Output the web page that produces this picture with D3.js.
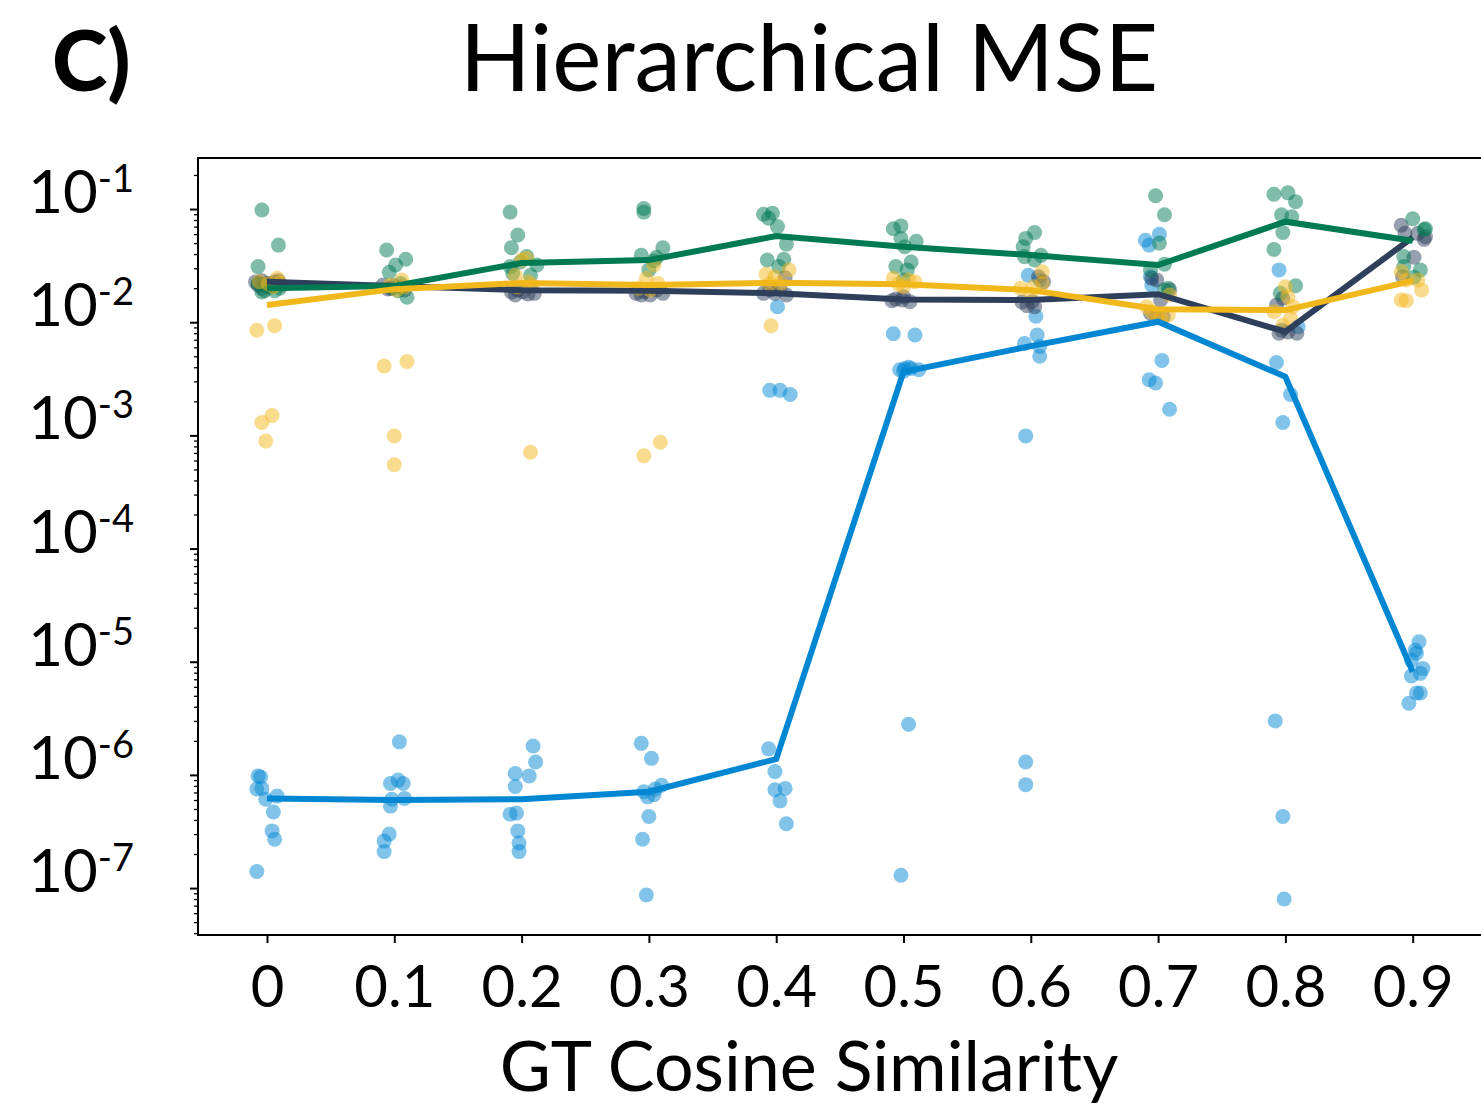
<!DOCTYPE html>
<html>
  <head>
    <meta charset="utf-8">
    <title>Hierarchical MSE</title>
    <script src="https://d3js.org/d3.v7.min.js"></script>
    <style>
      body { margin: 0; background: #fff; }
      #chart text { font-family: Lato, "Open Sans", sans-serif; fill: #000; }
      .domain, .tick line { stroke: #000; }
    </style>
  </head>
  <body>
    <svg id="chart" width="1481" height="1109"></svg>
    <script>
      // x levels (GT cosine similarity) and y decades
      const similarity = [0, 0.1, 0.2, 0.3, 0.4, 0.5, 0.6, 0.7, 0.8, 0.9];
      const xTickLabels = ["0", "0.1", "0.2", "0.3", "0.4", "0.5", "0.6", "0.7", "0.8", "0.9"];
      const decades = [-1, -2, -3, -4, -5, -6, -7];

      // median lines, one value per similarity level
      const blueLine = [6.2e-7, 6.0e-7, 6.1e-7, 7.1e-7, 1.38e-6, 3.65e-3, 6.15e-3, 1.01e-2, 3.3e-3, 8.15e-6];
      const navyLine = [0.0228, 0.0209, 0.0192, 0.0190, 0.0180, 0.0159, 0.0157, 0.0177, 0.00824, 0.0562];
      const greenLine = [0.0200, 0.0209, 0.0334, 0.0354, 0.0577, 0.0464, 0.0392, 0.0320, 0.0773, 0.0525];
      const yellowLine = [0.0142, 0.0196, 0.0222, 0.0213, 0.0223, 0.0217, 0.0192, 0.0130, 0.0128, 0.0232];

      // single runs: [jittered similarity, mse]
      const bluePoints = [
        [-0.007, 9.8e-7], [-0.005, 9.6e-7], [-0.008, 7.5e-7], [-0.004, 7.6e-7], [-0.001, 6.1e-7],
        [0.008, 6.5e-7], [0.005, 4.7e-7], [0.004, 3.2e-7], [0.006, 2.7e-7], [-0.008, 1.4e-7],
        [0.104, 1.96e-6], [0.097, 8.4e-7], [0.103, 9.0e-7], [0.107, 8.4e-7], [0.098, 6.1e-7],
        [0.108, 6.2e-7], [0.097, 5.3e-7], [0.096, 3.0e-7], [0.092, 2.6e-7], [0.092, 2.1e-7],
        [0.209, 1.8e-6], [0.211, 1.3e-6], [0.195, 1.03e-6], [0.206, 9.8e-7], [0.195, 7.9e-7],
        [0.191, 4.5e-7], [0.196, 4.6e-7], [0.197, 3.2e-7], [0.198, 2.5e-7], [0.198, 2.1e-7],
        [0.294, 1.9e-6], [0.302, 1.4e-6], [0.296, 7.1e-7], [0.304, 6.7e-7], [0.310, 8.1e-7],
        [0.300, 4.3e-7], [0.295, 2.7e-7], [0.298, 8.7e-8], [0.305, 7.5e-7], [0.299, 6.4e-7],
        [0.401, 0.0137], [0.395, 0.0025], [0.403, 0.0025], [0.411, 0.0023], [0.394, 1.7e-6],
        [0.399, 1.07e-6], [0.399, 7.4e-7], [0.407, 7.6e-7], [0.403, 5.9e-7], [0.408, 3.7e-7],
        [0.492, 0.0079], [0.509, 0.0077], [0.501, 0.0039], [0.506, 0.0039], [0.512, 0.0038],
        [0.504, 0.0040], [0.497, 0.0038], [0.500, 0.0037], [0.504, 2.8e-6], [0.498, 1.3e-7],
        [0.598, 0.026], [0.604, 0.0113], [0.595, 0.0065], [0.605, 0.0077], [0.607, 0.0061],
        [0.607, 0.0050], [0.596, 0.00099], [0.596, 1.3e-6], [0.596, 8.2e-7], [0.607, 0.0236],
        [0.690, 0.053], [0.701, 0.060], [0.693, 0.048], [0.694, 0.0252], [0.695, 0.0213],
        [0.703, 0.0046], [0.693, 0.0031], [0.698, 0.0029], [0.709, 0.0017],
        [0.795, 0.029], [0.793, 0.0044], [0.804, 0.0023], [0.798, 0.0013], [0.810, 0.0091],
        [0.792, 3.0e-6], [0.798, 4.3e-7], [0.799, 8.0e-8],
        [0.905, 1.5e-5], [0.902, 1.27e-5], [0.903, 1.19e-5], [0.908, 8.7e-6], [0.906, 7.9e-6],
        [0.899, 7.5e-6], [0.906, 5.3e-6], [0.903, 5.3e-6], [0.897, 4.3e-6], [0.899, 1.03e-5]
      ];
      const navyPoints = [
        [-0.009, 0.0227], [-0.004, 0.0232], [0.001, 0.0220], [0.006, 0.0227], [0.011, 0.0213],
        [-0.004, 0.0200], [0.002, 0.0205], [-0.007, 0.0213], [0.009, 0.0232], [-0.002, 0.0218],
        [0.091, 0.0213], [0.106, 0.0206], [0.097, 0.0200], [0.100, 0.0210], [0.095, 0.0197], [0.108, 0.0193],
        [0.195, 0.0174], [0.210, 0.0180], [0.201, 0.0186], [0.197, 0.0193], [0.205, 0.0178], [0.192, 0.0185],
        [0.290, 0.0180], [0.301, 0.0174], [0.311, 0.0180], [0.296, 0.0187], [0.306, 0.0193], [0.294, 0.0174],
        [0.390, 0.0180], [0.399, 0.0180], [0.408, 0.0174], [0.407, 0.0247], [0.395, 0.0193], [0.403, 0.0200],
        [0.491, 0.0155], [0.499, 0.0157], [0.505, 0.0152], [0.500, 0.0168], [0.494, 0.0160],
        [0.597, 0.0140], [0.603, 0.0137], [0.606, 0.0252], [0.610, 0.0228], [0.601, 0.0152], [0.593, 0.0151],
        [0.695, 0.0244], [0.699, 0.0236], [0.709, 0.0193], [0.699, 0.0112], [0.694, 0.0120],
        [0.704, 0.0112], [0.702, 0.0157],
        [0.793, 0.0142], [0.795, 0.0080], [0.809, 0.0080], [0.802, 0.0082], [0.798, 0.0163], [0.797, 0.0085],
        [0.891, 0.072], [0.894, 0.061], [0.910, 0.057], [0.901, 0.0375], [0.904, 0.061], [0.892, 0.0252], [0.909, 0.054]
      ];
      const greenPoints = [
        [-0.004, 0.098], [0.009, 0.048], [-0.007, 0.031], [-0.007, 0.022], [-0.002, 0.019],
        [0.006, 0.019], [0.010, 0.020], [0.002, 0.021], [-0.004, 0.0185],
        [0.094, 0.0435], [0.109, 0.036], [0.101, 0.032], [0.096, 0.0276], [0.110, 0.0166],
        [0.105, 0.022], [0.099, 0.020], [0.103, 0.019],
        [0.191, 0.094], [0.197, 0.059], [0.192, 0.0455], [0.204, 0.038], [0.191, 0.031],
        [0.212, 0.032], [0.199, 0.034], [0.207, 0.026], [0.193, 0.027],
        [0.296, 0.101], [0.296, 0.094], [0.311, 0.0455], [0.294, 0.039], [0.304, 0.035],
        [0.300, 0.029], [0.306, 0.0375],
        [0.390, 0.090], [0.397, 0.092], [0.394, 0.083], [0.401, 0.070], [0.408, 0.049],
        [0.393, 0.0355], [0.406, 0.036], [0.402, 0.031],
        [0.492, 0.067], [0.498, 0.071], [0.498, 0.055], [0.510, 0.052], [0.501, 0.0465],
        [0.494, 0.031], [0.506, 0.034], [0.503, 0.029], [0.500, 0.0236],
        [0.603, 0.062], [0.596, 0.055], [0.594, 0.0465], [0.595, 0.038], [0.608, 0.039], [0.603, 0.0355],
        [0.698, 0.131], [0.705, 0.089], [0.701, 0.050], [0.705, 0.0325], [0.694, 0.029],
        [0.705, 0.0193], [0.708, 0.020],
        [0.791, 0.135], [0.802, 0.139], [0.808, 0.116], [0.797, 0.089], [0.805, 0.0855],
        [0.798, 0.062], [0.791, 0.044], [0.808, 0.021], [0.796, 0.018],
        [0.900, 0.082], [0.910, 0.067], [0.893, 0.038], [0.906, 0.029], [0.901, 0.025],
        [0.893, 0.031], [0.909, 0.066]
      ];
      const yellowPoints = [
        [-0.008, 0.0085], [0.006, 0.0093], [-0.004, 0.0013], [0.004, 0.0015], [-0.001, 0.00089],
        [0.008, 0.0244], [-0.006, 0.0228], [0.005, 0.0206], [0.001, 0.0218], [0.010, 0.0222],
        [0.092, 0.0041], [0.110, 0.0045], [0.100, 0.00099], [0.100, 0.00055], [0.106, 0.0236],
        [0.108, 0.0206], [0.097, 0.0213], [0.102, 0.0193],
        [0.207, 0.00071], [0.200, 0.0355], [0.204, 0.0367], [0.195, 0.026], [0.205, 0.0228],
        [0.208, 0.0213], [0.197, 0.0205],
        [0.296, 0.00066], [0.309, 0.00087], [0.304, 0.032], [0.298, 0.0244], [0.307, 0.022],
        [0.292, 0.020], [0.301, 0.0193],
        [0.396, 0.0093], [0.392, 0.0265], [0.410, 0.029], [0.399, 0.0252], [0.404, 0.022], [0.395, 0.0218],
        [0.492, 0.0244], [0.509, 0.0228], [0.500, 0.0206], [0.504, 0.0236], [0.496, 0.0218],
        [0.609, 0.0279], [0.592, 0.020], [0.602, 0.0206], [0.609, 0.022], [0.600, 0.0174],
        [0.691, 0.0137], [0.699, 0.0112], [0.708, 0.0116], [0.695, 0.0124], [0.709, 0.0174], [0.702, 0.0109],
        [0.800, 0.0206], [0.791, 0.0124], [0.802, 0.0168], [0.806, 0.0137], [0.798, 0.0094], [0.804, 0.0108],
        [0.891, 0.0157], [0.895, 0.0155], [0.907, 0.0193], [0.891, 0.0279], [0.895, 0.0236], [0.904, 0.0236]
      ];

      const series = [
        { points: bluePoints, line: blueLine, colour: "#0387d3" },
        { points: navyPoints, line: navyLine, colour: "#2e3f5b" },
        { points: greenPoints, line: greenLine, colour: "#007a53" },
        { points: yellowPoints, line: yellowLine, colour: "#f1b81c" }
      ];

      // frame of the axes
      const frame = { left: 198, top: 158, right: 1490, bottom: 935 };
      const chart = d3.select("#chart");

      const x = d3.scaleLinear()
        .domain([0, 0.9])
        .range([267, 1412.7]);
      const y = d3.scaleLog()
        .domain([3.85e-8, 0.2825])
        .range([frame.bottom, frame.top]);

      // spines
      chart.append("path")
        .attr("d", "M" + frame.right + "," + frame.top + "H" + frame.left + "V" + frame.bottom + "H" + frame.right)
        .attr("fill", "none")
        .attr("stroke", "#000")
        .attr("stroke-width", 2);

      // minor y ticks (2..9 in each decade)
      let minor = [];
      for (let k = -8; k <= -1; k++) {
        for (let m = 2; m <= 9; m++) {
          let v = m * Math.pow(10, k);
          if (v >= y.domain()[0] && v <= y.domain()[1]) minor.push(v);
        }
      }
      const yMinorGroup = chart.append("g")
        .attr("transform", "translate(" + frame.left + ",0)")
        .call(d3.axisLeft(y).tickValues(minor).tickSize(4).tickFormat(""));
      yMinorGroup.select(".domain").remove();
      yMinorGroup.selectAll(".tick line").attr("stroke-width", 1.3);

      // major y ticks with 10^k labels
      const yMajorGroup = chart.append("g")
        .attr("transform", "translate(" + frame.left + ",0)")
        .call(d3.axisLeft(y).tickValues(decades.map(function(k) { return Math.pow(10, k); }))
          .tickSize(8).tickFormat(""));
      yMajorGroup.select(".domain").remove();
      yMajorGroup.selectAll(".tick line").attr("stroke-width", 2);

      const yLabels = chart.append("g");
      decades.forEach(function(k) {
        let t = yLabels.append("text")
          .attr("x", 134)
          .attr("y", y(Math.pow(10, k)) + 4)
          .attr("text-anchor", "end")
          .style("font-size", "60px");
        t.append("tspan").text("10");
        t.append("tspan")
          .attr("dy", -21)
          .style("font-size", "38px")
          .text(String(k));
      });

      // x axis
      const xAxisGroup = chart.append("g")
        .attr("transform", "translate(0," + frame.bottom + ")")
        .call(d3.axisBottom(x).tickValues(similarity).tickSize(8)
          .tickFormat(function(d, i) { return xTickLabels[i]; }).tickPadding(22));
      xAxisGroup.select(".domain").remove();
      xAxisGroup.selectAll(".tick line").attr("stroke-width", 2);
      xAxisGroup.selectAll(".tick text")
        .style("font-size", "58px")
        .attr("dy", "0.72em");

      // run points
      const pointGroup = chart.append("g");
      series.forEach(function(s) {
        pointGroup.selectAll(null)
          .data(s.points)
          .enter().append("circle")
            .attr("cx", function(d) { return x(d[0]); })
            .attr("cy", function(d) { return y(d[1]); })
            .attr("r", 7.5)
            .attr("fill", s.colour)
            .attr("fill-opacity", 0.5);
      });

      // median lines
      const line = d3.line()
        .x(function(d, i) { return x(similarity[i]); })
        .y(function(d) { return y(d); });
      series.forEach(function(s) {
        chart.append("path")
          .datum(s.line)
          .attr("d", line)
          .attr("fill", "none")
          .attr("stroke", s.colour)
          .attr("stroke-width", 6)
          .attr("stroke-linejoin", "miter");
      });

      // titles
      chart.append("text")
        .attr("x", 52)
        .attr("y", 91)
        .style("font-size", "84px")
        .style("font-weight", "900")
        .text("C)");
      chart.append("text")
        .attr("x", 809)
        .attr("y", 91)
        .attr("text-anchor", "middle")
        .style("font-size", "93px")
        .text("Hierarchical MSE");
      chart.append("text")
        .attr("x", 809)
        .attr("y", 1091)
        .attr("text-anchor", "middle")
        .style("font-size", "70px")
        .text("GT Cosine Similarity");
    </script>
  </body>
</html>
